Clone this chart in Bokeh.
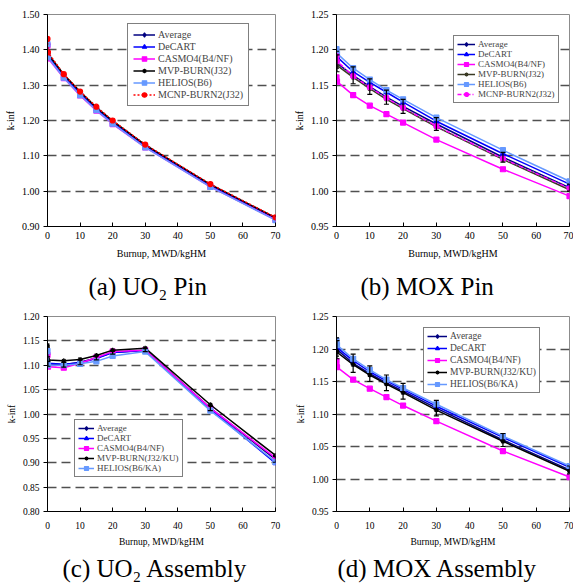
from bokeh.plotting import figure
from bokeh.layouts import column, row
from bokeh.models import (ColumnDataSource, FixedTicker, PrintfTickFormatter, Legend,
                          LegendItem, Whisker, TeeHead, Title, Range1d)
from bokeh.embed import file_html
from bokeh.resources import INLINE

# ---------------- data ----------------
burnup = [0, 0.15, 5, 10, 15, 20, 30, 50, 70]
x_ticks = [0, 10, 20, 30, 40, 50, 60, 70]

# (a) UO2 pin
a_average = [1.420, 1.385, 1.326, 1.278, 1.234, 1.196, 1.129, 1.017, 0.923]
a_decart  = [1.418, 1.382, 1.324, 1.276, 1.232, 1.194, 1.127, 1.015, 0.920]
a_casmo4  = [1.412, 1.376, 1.320, 1.271, 1.228, 1.190, 1.124, 1.012, 0.919]
a_mvp     = [1.424, 1.389, 1.330, 1.282, 1.237, 1.199, 1.131, 1.019, 0.925]
a_helios  = [1.416, 1.379, 1.321, 1.272, 1.229, 1.191, 1.124, 1.012, 0.918]
a_mcnp    = [1.431, 1.393, 1.331, 1.282, 1.239, 1.200, 1.132, 1.020, 0.926]
a_yticks  = [0.90, 1.00, 1.10, 1.20, 1.30, 1.40, 1.50]

# (b) MOX pin
b_average = [1.186, 1.181, 1.164, 1.148, 1.133, 1.120, 1.095, 1.048, 1.005]
b_err     = [0.012, 0.012, 0.012, 0.011, 0.010, 0.010, 0.009, 0.007, 0.005]
b_decart  = [1.196, 1.190, 1.169, 1.154, 1.140, 1.126, 1.099, 1.053, 1.010]
b_casmo4  = [1.161, 1.155, 1.136, 1.121, 1.109, 1.097, 1.073, 1.031, 0.993]
b_mvp     = [1.183, 1.178, 1.161, 1.145, 1.130, 1.117, 1.091, 1.045, 1.002]
b_helios  = [1.201, 1.195, 1.174, 1.158, 1.143, 1.130, 1.104, 1.058, 1.014]
b_mcnp    = [1.191, 1.184, 1.163, 1.147, 1.132, 1.118, 1.092, 1.046, 1.004]
b_yticks  = [0.95, 1.00, 1.05, 1.10, 1.15, 1.20, 1.25]

# (c) UO2 assembly
c_average = [1.127, 1.103, 1.101, 1.106, 1.115, 1.126, 1.131, 1.012, 0.907]
c_err     = [0.010, 0.005, 0.005, 0.005, 0.004, 0.003, 0.003, 0.005, 0.006]
c_decart  = [1.125, 1.104, 1.102, 1.105, 1.114, 1.126, 1.130, 1.010, 0.899]
c_casmo4  = [1.121, 1.097, 1.095, 1.104, 1.116, 1.128, 1.131, 1.012, 0.910]
c_mvp     = [1.141, 1.111, 1.109, 1.112, 1.120, 1.131, 1.135, 1.019, 0.915]
c_helios  = [1.129, 1.100, 1.100, 1.103, 1.108, 1.119, 1.128, 1.007, 0.902]
c_yticks  = [0.80, 0.85, 0.90, 0.95, 1.00, 1.05, 1.10, 1.15, 1.20]

# (d) MOX assembly
d_average = [1.203, 1.199, 1.178, 1.162, 1.148, 1.135, 1.109, 1.060, 1.014]
d_err     = [0.014, 0.014, 0.014, 0.012, 0.012, 0.012, 0.012, 0.010, 0.006]
d_decart  = [1.207, 1.202, 1.182, 1.165, 1.151, 1.138, 1.112, 1.064, 1.018]
d_casmo4  = [1.181, 1.172, 1.153, 1.139, 1.126, 1.113, 1.089, 1.043, 1.003]
d_mvp     = [1.197, 1.195, 1.176, 1.160, 1.146, 1.133, 1.106, 1.058, 1.012]
d_helios  = [1.213, 1.206, 1.185, 1.168, 1.153, 1.140, 1.115, 1.066, 1.020]
d_yticks  = [0.95, 1.00, 1.05, 1.10, 1.15, 1.20, 1.25]

FONT = "Liberation Serif"

NAVY = "#000080"
BLUE = "#0000FF"
MAG = "#FF00FF"
BLACK = "#000000"
LBLUE = "#6699FF"


def make_panel(caption, series, avg_err, yticks, w, h, bl, br, bt, bb,
               tick_fs, lab_fs, leg_fs, leg_loc, leg_spacing, leg_glyph_w,
               leg_pad, cap_fs, cap_offset, cap_standoff, tick_standoff,
               lab_standoff):
    p = figure(width=w, height=h, x_range=Range1d(0, 70),
               y_range=Range1d(yticks[0], yticks[-1]),
               output_backend="svg", toolbar_location=None, title_location=None,
               min_border_left=bl, min_border_right=br, min_border_top=bt,
               min_border_bottom=bb, background_fill_color="white",
               border_fill_color="white")
    p.outline_line_color = "#8c8c8c"
    p.outline_line_width = 1
    p.xaxis.ticker = FixedTicker(ticks=x_ticks)
    p.yaxis.ticker = FixedTicker(ticks=yticks)
    p.yaxis.formatter = PrintfTickFormatter(format="%.2f")
    p.axis.minor_tick_line_color = None
    p.axis.axis_line_color = "black"
    p.axis.major_tick_line_color = "black"
    p.xaxis.major_tick_in = 4
    p.xaxis.major_tick_out = 0
    p.yaxis.major_tick_in = 0
    p.yaxis.major_tick_out = 4
    p.axis.major_label_text_font = FONT
    p.axis.major_label_text_font_size = f"{tick_fs}px"
    p.axis.major_label_text_color = "black"
    p.axis.axis_label_text_font = FONT
    p.axis.axis_label_text_font_size = f"{lab_fs}px"
    p.axis.axis_label_text_font_style = "normal"
    p.axis.axis_label_text_color = "black"
    p.xaxis.axis_label = "Burnup, MWD/kgHM"
    p.yaxis.axis_label = "k-inf"
    p.xaxis.major_label_standoff = tick_standoff
    p.yaxis.major_label_standoff = 4
    p.xaxis.axis_label_standoff = lab_standoff
    p.yaxis.axis_label_standoff = 3
    p.xgrid.visible = False
    p.ygrid.ticker = FixedTicker(ticks=yticks[1:-1])
    p.ygrid.grid_line_color = "#505050"
    p.ygrid.grid_line_dash = "9 5"
    p.ygrid.grid_line_width = 1.3

    items = []
    for label, vals, color, marker, msize, dash in series:
        src = ColumnDataSource(dict(x=burnup, y=vals))
        ln = p.line("x", "y", source=src, line_color=color, line_width=1.5,
                    line_dash=dash)
        sc = p.scatter("x", "y", source=src, marker=marker, size=msize,
                       fill_color=color, line_color=color, line_width=1.2)
        items.append(LegendItem(label=label, renderers=[ln, sc]))

    if avg_err is not None:
        avg_vals = series[0][1]
        esrc = ColumnDataSource(dict(
            x=burnup,
            upper=[v + e for v, e in zip(avg_vals, avg_err)],
            lower=[v - e for v, e in zip(avg_vals, avg_err)]))
        wk = Whisker(source=esrc, base="x", upper="upper", lower="lower",
                     line_color="black", line_width=1.2, level="glyph",
                     upper_head=TeeHead(size=5, line_color="black", line_width=1.2),
                     lower_head=TeeHead(size=5, line_color="black", line_width=1.2))
        p.add_layout(wk)

    leg = Legend(items=items, location=leg_loc, orientation="vertical",
                 label_text_font=FONT, label_text_font_size=f"{leg_fs}px",
                 label_height=int(leg_fs) + 1, glyph_height=int(leg_fs) + 1,
                 glyph_width=leg_glyph_w, spacing=leg_spacing, padding=leg_pad,
                 margin=0, label_standoff=3, border_line_color="black",
                 border_line_width=1, background_fill_color="white",
                 background_fill_alpha=1.0)
    p.add_layout(leg)

    cap = Title(text=caption, align="left", offset=cap_offset,
                text_font=FONT, text_font_size=f"{cap_fs}px",
                text_font_style="normal", text_color="black",
                standoff=cap_standoff)
    p.add_layout(cap, "below")
    return p


a_series = [
    ("Average", a_average, NAVY, "diamond", 6, "solid"),
    ("DeCART", a_decart, BLUE, "triangle", 5, "solid"),
    ("CASMO4(B4/NF)", a_casmo4, MAG, "square", 5, "solid"),
    ("MVP-BURN(J32)", a_mvp, BLACK, "asterisk", 5, "solid"),
    ("HELIOS(B6)", a_helios, LBLUE, "square", 5, "solid"),
    ("MCNP-BURN2(J32)", a_mcnp, "#FF0000", "circle", 5, "2 2"),
]
b_series = [
    ("Average", b_average, NAVY, "diamond", 6, "solid"),
    ("DeCART", b_decart, BLUE, "triangle", 5, "solid"),
    ("CASMO4(B4/NF)", b_casmo4, MAG, "square", 5, "solid"),
    ("MVP-BURN(J32)", b_mvp, "#3a3a24", "asterisk", 5, "solid"),
    ("HELIOS(B6)", b_helios, LBLUE, "square", 5, "solid"),
    ("MCNP-BURN2(J32)", b_mcnp, MAG, "circle", 5, "4 2 1 2"),
]
c_series = [
    ("Average", c_average, NAVY, "diamond", 6, "solid"),
    ("DeCART", c_decart, BLUE, "triangle", 5, "solid"),
    ("CASMO4(B4/NF)", c_casmo4, MAG, "square", 5, "solid"),
    ("MVP-BURN(J32/KU)", c_mvp, BLACK, "asterisk", 5, "solid"),
    ("HELIOS(B6/KA)", c_helios, LBLUE, "square", 5, "solid"),
]
d_series = [
    ("Average", d_average, NAVY, "diamond", 6, "solid"),
    ("DeCART", d_decart, BLUE, "triangle", 5, "solid"),
    ("CASMO4(B4/NF)", d_casmo4, MAG, "square", 5, "solid"),
    ("MVP-BURN(J32/KU)", d_mvp, BLACK, "asterisk", 5, "solid"),
    ("HELIOS(B6/KA)", d_helios, LBLUE, "square", 5, "solid"),
]

#                                                              w    h   bl br  bt  bb  tfs lfs leg  loc        sp  gw pad cfs off so ts ls
pa = make_panel("(a) UO\u2082 Pin", a_series, None, a_yticks, 283, 308, 47, 8, 14, 81, 10, 10, 10, (80, 120), 1, 22, 5, 25, 41, 18, 5, 6)
pb = make_panel("(b) MOX Pin", b_series, b_err, b_yticks,    290, 308, 53, 4, 14, 81, 10, 10, 9, (117, 123), 0, 18, 3, 25, 24, 18, 5, 6)
pc = make_panel("(c) UO\u2082 Assembly", c_series, c_err, c_yticks, 283, 276, 47, 8, 8, 70, 9.5, 9.5, 9, (27, 34), -2, 16, 3, 25, 15, 6, 10, 5)
pd = make_panel("(d) MOX Assembly", d_series, d_err, d_yticks, 290, 276, 53, 4, 8, 70, 9.5, 9.5, 9.5, (87, 118), 2, 20, 3, 25, 1, 6, 10, 5)

layout = column(row(pa, pb, spacing=0), row(pc, pd, spacing=0), spacing=0)

with open("out.html", "w") as f:
    f.write(file_html(layout, INLINE))
